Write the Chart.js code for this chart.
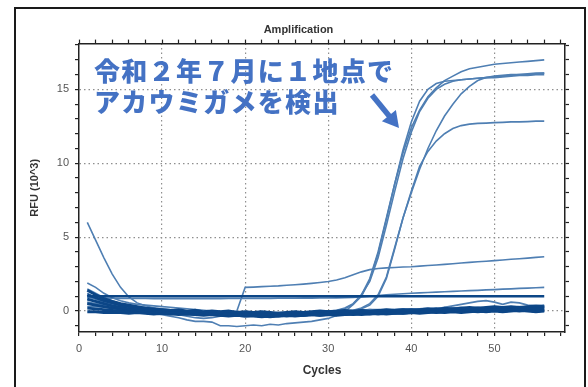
<!DOCTYPE html>
<html>
<head>
<meta charset="utf-8">
<script src="https://cdn.jsdelivr.net/npm/chart.js@4.4.1/dist/chart.umd.min.js"></script>
<style>
  html, body { margin: 0; padding: 0; background: #fff; overflow: hidden; }
  #wrap { position: relative; width: 588px; height: 387px; }
  #frame { position: absolute; left: 14px; top: 7px; width: 568px; height: 420px; border: 2px solid #1a1a1a; pointer-events: none; }
  #note { position: absolute; left: 94px; top: 54px; color: #4472c4; font: 900 26px "Noto Sans CJK JP", sans-serif; letter-spacing: 1.3px; line-height: 31px; white-space: nowrap; }
  #arrow { position: absolute; left: 0; top: 0; pointer-events: none; }
</style>
</head>
<body>
<div id="wrap">
  <canvas id="ampChart" width="588" height="387"></canvas>
  <div id="frame"></div>
  <div id="note">令和２年７月に１地点で<br>アカウミガメを検出</div>
  <svg id="arrow" width="588" height="387">
    <line x1="372" y1="95" x2="390" y2="117" stroke="#4472c4" stroke-width="5.5"/>
    <polygon points="399,128 381.9,121.3 395.9,109.9" fill="#4472c4"/>
  </svg>
</div>
<script>
// cycle numbers
const cycles = [1,2,3,4,5,6,7,8,9,10,11,12,13,14,15,16,17,18,19,20,21,22,23,24,25,26,27,28,29,30,
  31,32,33,34,35,36,37,38,39,40,41,42,43,44,45,46,47,48,49,50,51,52,53,54,55,56];

// amplification curves (RFU x10^3)
const ampA = [0.6,0.5,0.4,0.3,0.2,0.15,0.1,0.05,0.0,-0.05,
  -0.1,-0.1,-0.15,-0.1,-0.15,-0.2,-0.15,-0.2,-0.15,-0.2,
  -0.2,-0.25,-0.2,-0.15,-0.2,-0.15,-0.1,-0.1,-0.05,0.0,
  0.05,0.2,0.5,1.1,2.2,4.0,6.3,8.6,10.7,12.4,
  13.6,14.5,15.1,15.6,15.9,16.2,16.4,16.5,16.6,16.7,
  16.75,16.8,16.85,16.9,16.95,17.0];
const ampB = [1.0,0.8,0.6,0.45,0.3,0.2,0.1,0.05,0.0,0.0,
  -0.05,-0.1,-0.1,-0.15,-0.1,-0.15,-0.2,-0.15,-0.2,-0.2,
  -0.25,-0.2,-0.25,-0.2,-0.2,-0.15,-0.15,-0.1,-0.1,-0.05,
  0.0,0.15,0.45,1.0,2.1,3.9,6.2,8.6,10.9,12.8,
  14.2,15.0,15.4,15.55,15.6,15.65,15.7,15.75,15.8,15.85,
  15.9,15.95,16.0,16.0,16.05,16.1];
const ampE = [0.3,0.3,0.25,0.2,0.1,0.0,-0.1,-0.15,-0.2,-0.25,
  -0.35,-0.45,-0.6,-0.7,-0.7,-0.75,-1.0,-1.0,-1.05,-1.0,
  -0.95,-1.0,-0.9,-0.95,-0.85,-0.8,-0.75,-0.7,-0.6,-0.5,
  -0.3,-0.05,0.45,1.1,2.0,3.6,5.8,8.1,10.3,12.1,
  13.5,14.4,15.0,15.35,15.55,15.65,15.7,15.75,15.8,15.8,
  15.85,15.9,15.95,15.95,16.0,16.0];
const ampC = [0.8,0.65,0.5,0.35,0.25,0.15,0.1,0.05,0.0,-0.05,
  -0.1,-0.15,-0.1,-0.15,-0.2,-0.2,-0.25,-0.2,-0.25,-0.2,
  -0.25,-0.3,-0.25,-0.25,-0.2,-0.2,-0.15,-0.15,-0.1,-0.1,
  -0.05,0.0,0.05,0.2,0.5,1.1,2.3,4.3,6.3,8.0,
  9.6,11.0,12.2,13.2,14.0,14.7,15.2,15.6,15.8,15.9,
  15.95,16.0,16.0,16.05,16.1,16.1];
const ampD = [0.5,0.4,0.3,0.2,0.1,0.05,0.0,-0.05,-0.1,-0.1,
  -0.15,-0.2,-0.15,-0.2,-0.25,-0.2,-0.25,-0.3,-0.25,-0.3,
  -0.3,-0.25,-0.3,-0.25,-0.2,-0.2,-0.2,-0.15,-0.15,-0.1,
  -0.1,-0.05,0.0,0.15,0.4,1.0,2.2,4.2,6.3,8.1,
  9.8,10.8,11.5,12.0,12.35,12.55,12.65,12.7,12.72,12.75,
  12.77,12.8,12.8,12.82,12.85,12.85];

// other wells
const decayF = [6.0,4.8,3.6,2.5,1.6,0.95,0.55,0.35,0.2,0.05,
  -0.1,-0.25,-0.35,-0.45,-0.5,-0.45,-0.35,-0.3,-0.25,-0.2,
  -0.2,-0.25,-0.2,-0.2,-0.15,-0.15,-0.1,-0.1,-0.05,-0.05,
  0.0,0.0,0.05,0.05,0.1,0.1,0.05,0.1,0.1,0.15,
  0.1,0.15,0.2,0.15,0.2,0.25,0.2,0.25,0.2,0.25,
  0.2,0.25,0.3,0.25,0.3,0.3];
const stepG = [1.2,0.9,0.7,0.5,0.35,0.25,0.15,0.1,0.05,0.0,
  -0.05,-0.1,-0.1,-0.15,-0.1,-0.15,-0.1,-0.05,0.0,1.6,
  1.62,1.65,1.68,1.7,1.74,1.78,1.82,1.87,1.93,2.0,
  2.1,2.25,2.45,2.65,2.8,2.88,2.92,2.95,2.98,3.0,
  3.04,3.08,3.12,3.16,3.2,3.25,3.29,3.33,3.37,3.41,
  3.45,3.5,3.54,3.58,3.63,3.67];
const flatH = [1.0,1.0,1.0,1.0,1.0,1.0,1.0,1.0,1.0,1.0,
  1.0,1.0,1.0,1.0,1.0,1.0,1.0,1.0,1.0,1.0,
  1.0,1.0,1.0,1.0,1.0,1.0,1.0,1.0,1.0,1.0,
  1.0,1.0,1.0,1.0,1.0,1.0,1.0,1.0,1.0,1.0,
  1.0,1.0,1.0,1.0,1.0,1.0,1.0,1.0,1.0,1.0,
  1.0,1.0,1.0,1.0,1.0,1.0];
const driftI = [0.9,0.88,0.87,0.86,0.85,0.85,0.85,0.85,0.84,0.84,
  0.84,0.84,0.84,0.84,0.84,0.84,0.84,0.85,0.85,0.85,
  0.85,0.85,0.85,0.86,0.86,0.86,0.87,0.87,0.88,0.88,
  0.89,0.9,0.92,0.95,1.0,1.05,1.1,1.14,1.17,1.2,
  1.23,1.25,1.28,1.3,1.33,1.35,1.38,1.4,1.43,1.45,
  1.48,1.5,1.53,1.55,1.58,1.6];
const bumpJ = [1.5,1.2,0.9,0.7,0.5,0.4,0.3,0.25,0.2,0.15,
  0.1,0.05,0.0,-0.05,0.0,-0.05,-0.1,-0.05,-0.1,-0.1,
  -0.15,-0.1,-0.15,-0.1,-0.1,-0.05,-0.1,-0.05,0.0,0.0,
  0.0,0.05,0.0,0.05,0.1,0.05,0.1,0.1,0.15,0.1,
  0.15,0.2,0.15,0.25,0.35,0.45,0.55,0.65,0.7,0.6,
  0.45,0.6,0.55,0.4,0.35,0.4];
const lightK = [1.9,1.6,1.2,0.9,0.7,0.55,0.45,0.4,0.35,0.3,
  0.25,0.2,0.15,0.1,0.05,0.0,-0.05,-0.1,-0.1,-0.15,
  -0.15,-0.2,-0.2,-0.15,-0.2,-0.15,-0.1,-0.1,-0.05,-0.05,
  0.0,-0.05,0.0,0.05,0.0,0.05,0.0,0.05,0.1,0.05,
  0.1,0.05,0.1,0.15,0.1,0.15,0.2,0.15,0.2,0.25,
  0.2,0.25,0.2,0.3,0.25,0.3];

// negative wells (dark band near zero)
const neg1 = [1.4,1.1,0.85,0.65,0.5,0.4,0.3,0.2,0.15,0.1,
  0.05,0.1,0.0,0.05,-0.05,0.0,-0.05,0.0,-0.1,-0.05,
  -0.1,-0.05,-0.1,-0.15,-0.1,-0.05,-0.1,-0.05,0.0,-0.05,
  0.0,0.05,0.0,0.05,0.0,0.05,0.1,0.05,0.1,0.05,
  0.1,0.15,0.1,0.2,0.15,0.2,0.25,0.2,0.25,0.3,
  0.25,0.3,0.25,0.3,0.35,0.3];
const neg2 = [1.1,0.9,0.7,0.55,0.4,0.3,0.2,0.1,0.05,0.0,
  -0.05,-0.1,-0.05,-0.1,-0.15,-0.1,-0.15,-0.2,-0.15,-0.2,
  -0.25,-0.2,-0.25,-0.3,-0.25,-0.2,-0.25,-0.2,-0.15,-0.2,
  -0.15,-0.1,-0.15,-0.1,-0.05,-0.1,-0.05,0.0,-0.05,0.0,
  0.05,0.0,0.05,0.1,0.05,0.1,0.05,0.1,0.15,0.1,
  0.15,0.1,0.15,0.2,0.15,0.2];
const neg3 = [0.8,0.65,0.5,0.35,0.25,0.15,0.1,0.0,-0.05,-0.1,
  -0.1,-0.15,-0.2,-0.15,-0.2,-0.25,-0.2,-0.25,-0.3,-0.25,
  -0.3,-0.35,-0.3,-0.35,-0.3,-0.25,-0.3,-0.25,-0.2,-0.25,
  -0.2,-0.25,-0.2,-0.15,-0.2,-0.15,-0.1,-0.15,-0.1,-0.05,
  -0.1,-0.05,0.0,-0.05,0.0,0.05,0.0,0.05,0.0,0.05,
  0.0,0.05,0.1,0.05,0.0,0.05];
const neg4 = [0.5,0.4,0.3,0.2,0.15,0.1,0.05,0.0,0.0,-0.05,
  0.0,-0.05,-0.1,-0.05,-0.1,-0.05,-0.1,-0.15,-0.1,-0.15,
  -0.15,-0.2,-0.15,-0.2,-0.15,-0.1,-0.15,-0.1,-0.1,-0.05,
  -0.1,-0.05,-0.05,0.0,-0.05,0.0,0.05,0.0,0.05,0.1,
  0.05,0.1,0.15,0.1,0.15,0.1,0.15,0.2,0.15,0.2,
  0.2,0.15,0.2,0.25,0.2,0.25];
const neg5 = [0.2,0.15,0.1,0.05,0.0,-0.05,-0.1,-0.1,-0.15,-0.15,
  -0.2,-0.15,-0.2,-0.25,-0.2,-0.25,-0.3,-0.25,-0.3,-0.35,
  -0.3,-0.35,-0.4,-0.35,-0.3,-0.35,-0.3,-0.25,-0.3,-0.25,
  -0.25,-0.2,-0.25,-0.2,-0.15,-0.2,-0.15,-0.1,-0.15,-0.1,
  -0.1,-0.05,-0.1,-0.05,0.0,-0.05,0.0,-0.05,0.0,0.05,
  0.0,0.05,0.0,0.05,0.1,0.05];
const neg6 = [-0.05,-0.05,-0.1,-0.1,-0.1,-0.15,-0.1,-0.15,-0.2,-0.15,
  -0.2,-0.25,-0.2,-0.25,-0.3,-0.25,-0.3,-0.35,-0.3,-0.35,
  -0.35,-0.4,-0.35,-0.3,-0.35,-0.3,-0.3,-0.25,-0.3,-0.25,
  -0.3,-0.25,-0.2,-0.25,-0.2,-0.15,-0.2,-0.15,-0.15,-0.1,
  -0.15,-0.1,-0.05,-0.1,-0.05,-0.1,-0.05,0.0,-0.05,0.0,
  -0.05,0.0,0.05,0.0,-0.05,0.0];

// axis tick labels
const xTickLabels = [0, 10, 20, 30, 40, 50];
const yTickLabels = [0, 5, 10, 15];

const DARK = '#0c4687';
const LIGHT = '#4f7fb3';

function toPoints(values) {
    return values.map(function(v, i) { return { x: cycles[i], y: v }; });
}

// first dataset is painted last, so the dark ones go first
const darkSeries = [neg1, neg2, neg3, neg4, neg5, neg6, flatH];
const lightSeries = [bumpJ, lightK, driftI, stepG, decayF, ampD, ampC, ampE, ampB, ampA];

const datasets = [];
darkSeries.forEach(function(s) {
    datasets.push({ data: toPoints(s), borderColor: DARK, borderWidth: s === flatH ? 2.6 : 2.8 });
});
lightSeries.forEach(function(s) {
    datasets.push({ data: toPoints(s), borderColor: LIGHT, borderWidth: 1.6 });
});

Chart.defaults.font.family = '"Liberation Sans", Arial, sans-serif';
Chart.defaults.color = '#555';

const xRange = { min: 0, max: 58.5 };
const yRange = { min: -1.42, max: 18.1 };

const config = {
    type: 'line',
    data: { datasets: datasets },
    options: {
        animation: false,
        responsive: false,
        elements: { point: { radius: 0 }, line: { tension: 0 } },
        layout: { padding: { left: 28, right: 19, top: 14, bottom: 8 } },
        plugins: {
            legend: { display: false },
            tooltip: { enabled: false },
            title: {
                display: true,
                text: 'Amplification',
                color: '#333',
                font: { size: 11, weight: 'bold' },
                padding: { top: 9, bottom: 3.4 }
            }
        },
        scales: {
            x: {
                type: 'linear', position: 'bottom', min: xRange.min, max: xRange.max,
                afterFit: function(s) { s.height = 47; },
                ticks: {
                    stepSize: 2, includeBounds: false, autoSkip: false, maxRotation: 0, padding: 6,
                    color: '#555', font: { size: 11 },
                    callback: function(v) { return xTickLabels.includes(v) ? v : ''; }
                },
                grid: {
                    color: function(ctx) {
                        const v = ctx.tick ? ctx.tick.value : null;
                        return v !== 0 && xTickLabels.includes(v) ? '#8f8f8f' : 'rgba(0,0,0,0)';
                    },
                    lineWidth: 1.2,
                    tickColor: '#222', tickLength: 4, tickWidth: 1.2
                },
                border: { display: true, color: '#222', width: 1.5, dash: [1.5, 3] },
                title: { display: true, text: 'Cycles', color: '#333', font: { size: 12, weight: 'bold' }, padding: { top: 0, bottom: 1 } }
            },
            x2: {
                type: 'linear', position: 'top', min: xRange.min, max: xRange.max,
                ticks: { display: false, stepSize: 2, includeBounds: false },
                grid: { drawOnChartArea: false, tickColor: '#222', tickLength: 4, tickWidth: 1.2 },
                border: { display: true, color: '#222', width: 1.5 }
            },
            y: {
                type: 'linear', position: 'left', min: yRange.min, max: yRange.max,
                afterFit: function(s) { s.width = 51; },
                ticks: {
                    stepSize: 1, includeBounds: false, autoSkip: false, padding: 6,
                    color: '#555', font: { size: 11 },
                    callback: function(v) { return yTickLabels.includes(v) ? v : ''; }
                },
                grid: {
                    color: function(ctx) {
                        const v = ctx.tick ? ctx.tick.value : null;
                        return yTickLabels.includes(v) ? '#8f8f8f' : 'rgba(0,0,0,0)';
                    },
                    lineWidth: 1.2,
                    tickColor: '#222', tickLength: 4, tickWidth: 1.2
                },
                border: { display: true, color: '#222', width: 1.5, dash: [1.5, 3] },
                title: { display: true, text: 'RFU (10^3)', color: '#333', font: { size: 11, weight: 'bold' }, padding: { top: 0.4, bottom: 0 } }
            },
            y2: {
                type: 'linear', position: 'right', min: yRange.min, max: yRange.max,
                ticks: { display: false, stepSize: 1, includeBounds: false },
                grid: { drawOnChartArea: false, tickColor: '#222', tickLength: 4, tickWidth: 1.2 },
                border: { display: true, color: '#222', width: 1.5 }
            }
        }
    }
};

new Chart(document.getElementById('ampChart'), config);
</script>
</body>
</html>
